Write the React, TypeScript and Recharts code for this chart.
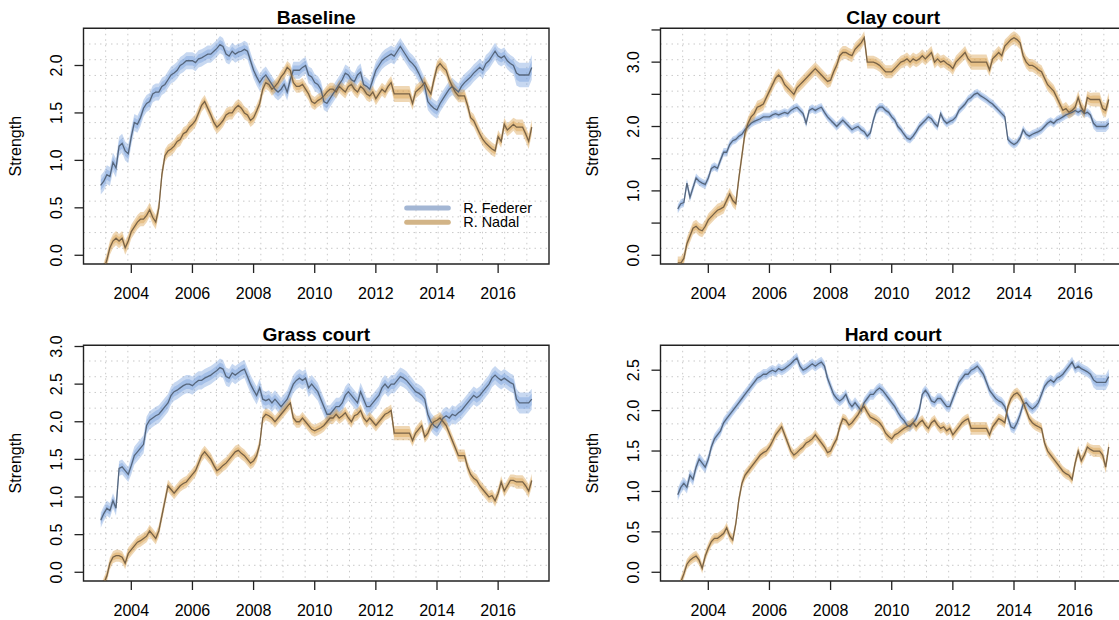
import React from "react";
import {
  ComposedChart,
  Area,
  Line,
  XAxis,
  YAxis,
  CartesianGrid,
  ReferenceArea,
} from "recharts";

// Rating dates (decimal years, sampled every tenth of a year)
const YEARS = [
  2003.0, 2003.1, 2003.2, 2003.3, 2003.4, 2003.5, 2003.6, 2003.7, 2003.8, 2003.9,
  2004.0, 2004.1, 2004.2, 2004.3, 2004.4, 2004.5, 2004.6, 2004.7, 2004.8, 2004.9,
  2005.0, 2005.1, 2005.2, 2005.3, 2005.4, 2005.5, 2005.6, 2005.7, 2005.8, 2005.9,
  2006.0, 2006.1, 2006.2, 2006.3, 2006.4, 2006.5, 2006.6, 2006.7, 2006.8, 2006.9,
  2007.0, 2007.1, 2007.2, 2007.3, 2007.4, 2007.5, 2007.6, 2007.7, 2007.8, 2007.9,
  2008.0, 2008.1, 2008.2, 2008.3, 2008.4, 2008.5, 2008.6, 2008.7, 2008.8, 2008.9,
  2009.0, 2009.1, 2009.2, 2009.3, 2009.4, 2009.5, 2009.6, 2009.7, 2009.8, 2009.9,
  2010.0, 2010.1, 2010.2, 2010.3, 2010.4, 2010.5, 2010.6, 2010.7, 2010.8, 2010.9,
  2011.0, 2011.1, 2011.2, 2011.3, 2011.4, 2011.5, 2011.6, 2011.7, 2011.8, 2011.9,
  2012.0, 2012.1, 2012.2, 2012.3, 2012.4, 2012.5, 2012.6, 2012.7, 2012.8, 2012.9,
  2013.0, 2013.1, 2013.2, 2013.3, 2013.4, 2013.5, 2013.6, 2013.7, 2013.8, 2013.9,
  2014.0, 2014.1, 2014.2, 2014.3, 2014.4, 2014.5, 2014.6, 2014.7, 2014.8, 2014.9,
  2015.0, 2015.1, 2015.2, 2015.3, 2015.4, 2015.5, 2015.6, 2015.7, 2015.8, 2015.9,
  2016.0, 2016.1, 2016.2, 2016.3, 2016.4, 2016.5, 2016.6, 2016.7, 2016.8, 2016.9,
  2017.0, 2017.1,
];

// ---- Baseline strength ----
const FED_BASELINE = [
  0.74, 0.78, 0.85, 0.83, 0.98, 0.92, 1.15, 1.18, 1.1, 1.07,
  1.25, 1.4, 1.38, 1.45, 1.55, 1.6, 1.62, 1.7, 1.72, 1.72,
  1.78, 1.8, 1.85, 1.9, 1.92, 1.95, 2.0, 2.02, 2.05, 2.05,
  2.05, 2.03, 2.07, 2.08, 2.1, 2.12, 2.12, 2.15, 2.18, 2.22,
  2.2, 2.12, 2.1, 2.15, 2.12, 2.14, 2.15, 2.17, 2.15, 2.05,
  1.95, 1.88, 1.82, 1.87, 1.9, 1.85, 1.8, 1.75, 1.72, 1.75,
  1.8, 1.72, 1.85, 1.95, 1.95, 1.95, 1.98, 2.0, 1.9, 1.88,
  1.82, 1.8, 1.75, 1.62, 1.6, 1.65, 1.7, 1.75, 1.8, 1.85,
  1.92, 1.9, 1.85, 1.83, 1.9, 1.93, 1.8, 1.78, 1.75, 1.85,
  1.95, 2.0, 2.05, 2.08, 2.1, 2.12, 2.1, 2.15, 2.2, 2.15,
  2.1, 2.05, 2.02, 1.98, 1.92, 1.85, 1.78, 1.62, 1.58, 1.55,
  1.53, 1.6, 1.65, 1.7, 1.75, 1.78, 1.75, 1.72, 1.78, 1.82,
  1.85, 1.88, 1.92, 1.95, 1.98, 1.95, 2.02, 2.05, 2.1, 2.15,
  2.1, 2.08, 2.1, 2.05, 2.02, 2.0, 1.92, 1.9, 1.9, 1.9,
  1.9, 1.98,
];
const NAD_BASELINE = [
  -0.25, -0.15, -0.05, 0.08, 0.15, 0.18, 0.15, 0.18, 0.08, 0.15,
  0.25, 0.3, 0.35, 0.38, 0.38, 0.42, 0.48, 0.4, 0.35, 0.5,
  0.85, 1.05, 1.1, 1.12, 1.15, 1.2, 1.22, 1.28, 1.3, 1.35,
  1.38, 1.42, 1.5, 1.58, 1.62, 1.55, 1.48, 1.4, 1.35, 1.38,
  1.42, 1.48, 1.5, 1.5, 1.55, 1.58, 1.55, 1.5, 1.48, 1.42,
  1.45, 1.52, 1.6, 1.75, 1.82, 1.8, 1.75, 1.78, 1.82, 1.88,
  1.92, 1.98, 1.95, 1.82, 1.78, 1.78, 1.8, 1.75, 1.7, 1.62,
  1.6, 1.63, 1.65, 1.68, 1.72, 1.75, 1.75, 1.72, 1.78, 1.75,
  1.72, 1.78, 1.8, 1.75, 1.72, 1.78, 1.75, 1.7, 1.68, 1.72,
  1.65, 1.7, 1.75, 1.72, 1.78, 1.82, 1.7, 1.7, 1.7, 1.7,
  1.7, 1.7, 1.6, 1.72, 1.75, 1.78, 1.82, 1.75, 1.7, 1.85,
  1.98, 2.02, 1.98, 1.95, 1.85, 1.78, 1.72, 1.68, 1.68, 1.68,
  1.58, 1.45, 1.42, 1.35, 1.28, 1.22, 1.18, 1.15, 1.12, 1.1,
  1.25, 1.2, 1.38, 1.32, 1.35, 1.38, 1.35, 1.35, 1.35, 1.28,
  1.2, 1.35,
];

// ---- Clay court strength ----
const FED_CLAY = [
  0.72, 0.8, 0.82, 1.12, 0.9, 1.05, 1.2, 1.15, 1.12, 1.1,
  1.2, 1.35, 1.38, 1.35, 1.48, 1.6, 1.6, 1.72, 1.78, 1.8,
  1.85, 1.88, 1.95, 2.0, 2.05, 2.08, 2.1, 2.12, 2.15, 2.15,
  2.15, 2.18, 2.2, 2.18, 2.2, 2.22, 2.2, 2.25, 2.28, 2.3,
  2.25, 2.2, 2.05, 2.25, 2.28, 2.25, 2.28, 2.3, 2.22, 2.15,
  2.1, 2.05, 2.0, 2.05, 2.1, 2.05, 2.0, 1.95, 1.98, 2.0,
  1.95, 1.92, 1.85, 1.9, 2.1, 2.25, 2.3, 2.3, 2.25, 2.22,
  2.15, 2.1, 2.0, 1.95, 1.88, 1.82, 1.8, 1.85, 1.92, 2.0,
  2.05, 2.1, 2.15, 2.12, 2.05, 2.0, 2.2, 2.1, 2.05, 2.08,
  2.1, 2.15, 2.25, 2.3, 2.35, 2.42, 2.45, 2.5, 2.52, 2.48,
  2.45, 2.42, 2.38, 2.35, 2.3, 2.25, 2.2, 2.15, 1.8, 1.75,
  1.72, 1.75, 1.82, 1.95, 1.88, 1.85, 1.88, 1.9, 1.92, 1.95,
  2.0, 2.05, 2.08, 2.05, 2.1, 2.12, 2.15, 2.18, 2.2, 2.22,
  2.25, 2.22, 2.25, 2.2, 2.22, 2.18, 2.05, 2.0, 2.0, 2.0,
  2.0, 2.05,
];
const NAD_CLAY = [
  -0.12, -0.12, -0.05, 0.18, 0.3, 0.42, 0.45, 0.4, 0.38, 0.45,
  0.55, 0.6, 0.65, 0.7, 0.72, 0.75, 0.85, 0.95, 0.85, 0.8,
  1.2, 1.55, 1.9, 2.05, 2.15, 2.2, 2.3, 2.32, 2.35, 2.45,
  2.55, 2.65, 2.75, 2.8, 2.75, 2.65, 2.6, 2.55, 2.5, 2.6,
  2.65, 2.7, 2.75, 2.8, 2.85, 2.9, 2.85, 2.8, 2.75, 2.7,
  2.72, 2.85, 2.95, 3.1, 3.15, 3.15, 3.12, 3.1, 3.2, 3.25,
  3.3, 3.38, 3.0, 3.0, 3.0, 2.98, 2.95, 2.9, 2.85, 2.85,
  2.85, 2.9, 2.95, 3.0, 3.02, 3.05, 3.0, 3.05, 3.02, 3.05,
  3.1, 3.05, 3.1, 3.15, 3.0, 3.05, 3.0, 3.02, 2.98, 2.95,
  2.9, 3.0, 3.05, 3.1, 3.15, 3.05, 3.0, 3.0, 3.0, 3.0,
  3.0, 3.0, 2.88, 3.05, 3.1, 3.15, 3.1, 3.25, 3.3, 3.35,
  3.38, 3.35, 3.3, 3.1, 3.0, 2.95, 2.95, 2.92, 2.88, 2.85,
  2.75, 2.65, 2.6, 2.55, 2.45, 2.35, 2.25, 2.28, 2.22, 2.25,
  2.3, 2.45, 2.3, 2.22, 2.45, 2.42, 2.42, 2.42, 2.42, 2.28,
  2.25, 2.42,
];

// ---- Grass court strength ----
const FED_GRASS = [
  0.69, 0.78, 0.85, 0.82, 0.95, 0.85, 1.38, 1.4, 1.35, 1.3,
  1.42, 1.55, 1.6, 1.65, 1.7, 1.95, 2.02, 2.05, 2.08, 2.1,
  2.15, 2.2, 2.25, 2.35, 2.4, 2.42, 2.45, 2.48, 2.5, 2.5,
  2.48, 2.52, 2.55, 2.55, 2.58, 2.6, 2.62, 2.65, 2.68, 2.72,
  2.7, 2.6, 2.58, 2.65, 2.62, 2.65, 2.68, 2.7, 2.6, 2.5,
  2.42, 2.35, 2.45, 2.3, 2.28, 2.3, 2.25, 2.3, 2.25, 2.2,
  2.25, 2.3, 2.4, 2.5, 2.55, 2.58, 2.55, 2.58, 2.45, 2.5,
  2.45, 2.4, 2.3, 2.2, 2.1, 2.1, 2.15, 2.2, 2.2, 2.25,
  2.35, 2.4, 2.35, 2.3, 2.25, 2.4, 2.3, 2.2, 2.2, 2.25,
  2.3, 2.35, 2.45, 2.5, 2.45, 2.5, 2.5, 2.55, 2.6, 2.58,
  2.55, 2.5, 2.45, 2.4, 2.38, 2.35, 2.3, 2.1, 2.0, 1.95,
  1.92, 1.98, 2.05, 2.08, 2.05, 2.1, 2.08, 2.12, 2.15, 2.2,
  2.25, 2.3, 2.35, 2.32, 2.35, 2.4, 2.45, 2.5, 2.58, 2.62,
  2.58, 2.55, 2.58, 2.55, 2.52, 2.5, 2.3, 2.25, 2.25, 2.25,
  2.25, 2.3,
];
const NAD_GRASS = [
  -0.25, -0.15, -0.05, 0.12, 0.2, 0.22, 0.22, 0.2, 0.12, 0.25,
  0.3, 0.35, 0.4, 0.42, 0.45, 0.48, 0.55, 0.5, 0.45, 0.55,
  0.75, 0.95, 1.15, 1.1, 1.05, 1.1, 1.15, 1.18, 1.2, 1.25,
  1.3, 1.35, 1.45, 1.55, 1.6, 1.55, 1.5, 1.42, 1.35, 1.38,
  1.42, 1.45, 1.5, 1.55, 1.6, 1.62, 1.58, 1.55, 1.5, 1.45,
  1.48, 1.55, 1.7, 2.05, 2.1, 2.08, 2.05, 2.0, 2.05, 2.1,
  2.15, 2.2, 2.25, 2.05, 2.0, 2.0, 2.05, 2.0, 1.95, 1.9,
  1.88, 1.9, 1.92, 1.95, 2.0, 2.05, 2.05, 2.1, 2.05, 2.08,
  2.12, 2.05, 2.0, 2.08, 2.1, 2.15, 2.05, 2.0, 2.05, 2.0,
  1.95, 2.0, 2.05, 2.1, 2.12, 2.15, 1.85, 1.85, 1.85, 1.85,
  1.85, 1.85, 1.75, 1.85, 1.9, 1.95, 1.8, 1.85, 1.95, 2.0,
  2.02, 2.05, 2.0, 1.95, 1.85, 1.75, 1.65, 1.55, 1.55, 1.55,
  1.4, 1.3, 1.25, 1.22, 1.15, 1.1, 1.05, 1.0, 1.02, 0.95,
  1.05, 1.2, 1.08, 1.15, 1.22, 1.22, 1.2, 1.2, 1.2, 1.15,
  1.08, 1.22,
];

// ---- Hard court strength ----
const FED_HARD = [
  0.96, 1.05, 1.1, 1.05, 1.2, 1.15, 1.3, 1.4, 1.35, 1.3,
  1.4, 1.55, 1.65, 1.7, 1.75, 1.85, 1.9, 1.95, 2.0, 2.05,
  2.1, 2.15, 2.2, 2.25, 2.3, 2.35, 2.4, 2.42, 2.45, 2.45,
  2.48, 2.5, 2.48, 2.52, 2.5, 2.52, 2.55, 2.58, 2.62, 2.65,
  2.55, 2.5, 2.52, 2.55, 2.58, 2.55, 2.58, 2.6, 2.55, 2.4,
  2.3, 2.2, 2.15, 2.12, 2.15, 2.2, 2.1, 2.05, 2.1, 2.05,
  2.0, 2.1, 2.15, 2.2, 2.2, 2.25, 2.28, 2.25, 2.2, 2.15,
  2.1, 2.05, 1.98, 1.92, 1.88, 1.82, 1.8, 1.85, 1.9, 2.0,
  2.2, 2.25, 2.2, 2.12, 2.1, 2.15, 2.15, 2.1, 2.05, 2.05,
  2.15, 2.25, 2.35, 2.4, 2.45, 2.45, 2.5, 2.52, 2.55, 2.5,
  2.45, 2.35, 2.25, 2.2, 2.15, 2.12, 2.1, 2.05, 1.92, 1.8,
  1.78, 1.85, 1.95, 2.08, 2.1, 2.05, 2.02, 2.05, 2.1, 2.2,
  2.3, 2.35, 2.38, 2.35, 2.4, 2.42, 2.45, 2.5, 2.55, 2.6,
  2.52, 2.55, 2.52, 2.5, 2.48, 2.45, 2.38, 2.35, 2.35, 2.35,
  2.35, 2.42,
];
const NAD_HARD = [
  -0.25, -0.12, -0.02, 0.1, 0.15, 0.18, 0.2, 0.15, 0.05, 0.2,
  0.3, 0.38, 0.42, 0.42, 0.45, 0.48, 0.55, 0.45, 0.4, 0.6,
  0.9, 1.1, 1.2, 1.25, 1.3, 1.35, 1.4, 1.45, 1.48, 1.5,
  1.55, 1.62, 1.7, 1.75, 1.8, 1.7, 1.6, 1.5, 1.45, 1.48,
  1.52, 1.55, 1.6, 1.62, 1.65, 1.7, 1.65, 1.6, 1.55, 1.48,
  1.5, 1.58, 1.65, 1.8, 1.9, 1.88, 1.82, 1.85, 1.9, 1.95,
  2.02, 2.05, 1.98, 1.92, 1.9, 1.88, 1.85, 1.8, 1.72, 1.68,
  1.65, 1.7, 1.72, 1.75, 1.78, 1.8, 1.82, 1.85, 1.8, 1.85,
  1.88, 1.82, 1.78, 1.85, 1.88, 1.82, 1.78, 1.8, 1.75, 1.78,
  1.7, 1.75, 1.8, 1.85, 1.88, 1.9, 1.78, 1.78, 1.78, 1.78,
  1.78, 1.78, 1.7, 1.8, 1.85, 1.9, 1.88, 1.85, 2.05, 2.15,
  2.2, 2.22, 2.18, 2.1, 2.0, 1.9, 1.85, 1.82, 1.8, 1.78,
  1.6, 1.5, 1.45, 1.4, 1.35, 1.3, 1.25, 1.22, 1.2, 1.15,
  1.35, 1.5, 1.38, 1.45, 1.55, 1.52, 1.5, 1.5, 1.5, 1.45,
  1.3, 1.55,
];

// Credible-band half widths: [from year, to year, half width]
const FED_BASELINE_BAND = [[2003.0, 2003.9, 0.1], [2004.0, 2016.5, 0.09], [2016.6, 2017.1, 0.13]];
const NAD_BASELINE_BAND = [[2003.0, 2004.9, 0.075], [2005.0, 2012.5, 0.068], [2012.6, 2013.1, 0.085], [2013.2, 2016.5, 0.068], [2016.6, 2017.1, 0.08]];
const FED_CLAY_BAND = [[2003.0, 2003.9, 0.07], [2004.0, 2016.5, 0.065], [2016.6, 2017.1, 0.085]];
const NAD_CLAY_BAND = [[2003.0, 2012.5, 0.1], [2012.6, 2013.1, 0.12], [2013.2, 2016.5, 0.1], [2016.6, 2017.1, 0.11]];
const FED_GRASS_BAND = [[2003.0, 2003.9, 0.1], [2004.0, 2016.5, 0.12], [2016.6, 2017.1, 0.14]];
const NAD_GRASS_BAND = [[2003.0, 2012.5, 0.08], [2012.6, 2013.1, 0.095], [2013.2, 2016.5, 0.08], [2016.6, 2017.1, 0.09]];
const FED_HARD_BAND = [[2003.0, 2003.9, 0.075], [2004.0, 2016.5, 0.065], [2016.6, 2017.1, 0.095]];
const NAD_HARD_BAND = [[2003.0, 2012.5, 0.065], [2012.6, 2013.1, 0.08], [2013.2, 2016.5, 0.065], [2016.6, 2017.1, 0.075]];

const X_TICKS = [2004, 2006, 2008, 2010, 2012, 2014, 2016];
const BASELINE_Y_TICKS = [0, 0.5, 1, 1.5, 2];
const CLAY_Y_TICKS = [0, 0.5, 1, 1.5, 2, 2.5, 3, 3.5];
const CLAY_Y_LABELS = [0, 1, 2, 3];
const GRASS_Y_TICKS = [0, 0.5, 1, 1.5, 2, 2.5, 3];
const HARD_Y_TICKS = [0, 0.5, 1, 1.5, 2, 2.5];

const BASELINE_YLIM = [0, 2.3];
const CLAY_YLIM = [0, 3.39];
const GRASS_YLIM = [0, 2.9];
const HARD_YLIM = [0, 2.7];

const PLAYERS = ["R. Federer", "R. Nadal"];
const Y_TITLE = "Strength";

// ---- styling ----
const FONT = "'Liberation Sans', Arial, Helvetica, sans-serif";
const FED_FILL = "#749ddc";
const FED_LINE = "#56667c";
const NAD_FILL = "#d99f4c";
const NAD_LINE = "#786246";
const FED_KEY = "#a3b6d4";
const NAD_KEY = "#d2b487";
const FRAME = "#222";
const INNER_RATIO = 0.55;

const CHART_W = 577;
const CHART_H = 316;
const Y_AXIS_W = 60;
const X_AXIS_H = 40;
const MARGIN = { top: 28.3, right: 28, bottom: 12, left: 23.5 };
const PLOT_W = CHART_W - MARGIN.left - Y_AXIS_W - MARGIN.right;
const PLOT_H = CHART_H - MARGIN.top - MARGIN.bottom - X_AXIS_H;
const PLOT_X = MARGIN.left + Y_AXIS_W;
const GRID_NX = 21;
const GRID_NY = 15;

// R-style 4% axis extension
const extend = (lo: number, hi: number): [number, number] => {
  const pad = (hi - lo) * 0.04;
  return [lo - pad, hi + pad];
};
const X_DOMAIN = extend(YEARS[0], YEARS[YEARS.length - 1]);

const bandAt = (segments: number[][], t: number) => {
  const seg = segments.find((s) => t >= s[0] - 1e-6 && t <= s[1] + 1e-6);
  return seg ? seg[2] : 0;
};

const buildRows = (fed: number[], nad: number[], fedBand: number[][], nadBand: number[][]) =>
  YEARS.map((t, i) => {
    const fw = bandAt(fedBand, t);
    const nw = bandAt(nadBand, t);
    return {
      t,
      fedOuter: [fed[i] - fw, fed[i] + fw],
      fedInner: [fed[i] - fw * INNER_RATIO, fed[i] + fw * INNER_RATIO],
      fedMid: fed[i],
      nadOuter: [nad[i] - nw, nad[i] + nw],
      nadInner: [nad[i] - nw * INNER_RATIO, nad[i] + nw * INNER_RATIO],
      nadMid: nad[i],
    };
  });

type PanelProps = {
  title: string;
  rows: ReturnType<typeof buildRows>;
  ylim: number[];
  yTicks: number[];
  yLabels?: number[];
  left: number;
  top: number;
  legend?: boolean;
};

function Panel({ title, rows, ylim, yTicks, yLabels, left, top, legend }: PanelProps) {
  const yDomain = extend(ylim[0], ylim[1]);
  const labelled = (v: number) => !yLabels || yLabels.some((l) => Math.abs(l - v) < 1e-9);

  const renderYTick = (props: any) => {
    const { x, y, payload } = props;
    if (!labelled(payload.value)) return <g />;
    return (
      <text
        x={x}
        y={y}
        transform={`rotate(-90, ${x}, ${y})`}
        textAnchor="middle"
        fontSize={16}
        fontFamily={FONT}
        fill="#000"
      >
        {Number(payload.value).toFixed(1)}
      </text>
    );
  };

  const midY = MARGIN.top + PLOT_H / 2;

  return (
    <div style={{ position: "absolute", left, top, width: CHART_W, height: CHART_H }}>
      <ComposedChart width={CHART_W} height={CHART_H} data={rows} margin={MARGIN}>
        <CartesianGrid
          stroke="#c9c9c9"
          strokeDasharray="1.5 4"
          verticalCoordinatesGenerator={({ offset }: any) =>
            Array.from({ length: GRID_NX - 1 }, (_, k) => offset.left + ((k + 1) * offset.width) / GRID_NX)
          }
          horizontalCoordinatesGenerator={({ offset }: any) =>
            Array.from({ length: GRID_NY - 1 }, (_, k) => offset.top + ((k + 1) * offset.height) / GRID_NY)
          }
        />
        <XAxis
          type="number"
          dataKey="t"
          domain={X_DOMAIN}
          allowDataOverflow
          ticks={X_TICKS}
          interval={0}
          height={X_AXIS_H}
          axisLine={false}
          tickSize={9}
          tickMargin={14.5}
          tickLine={{ stroke: FRAME, strokeWidth: 1.3 }}
          tick={{ fontSize: 16, fill: "#000", fontFamily: FONT }}
        />
        <YAxis
          type="number"
          domain={yDomain}
          allowDataOverflow
          ticks={yTicks}
          interval={0}
          width={Y_AXIS_W}
          axisLine={false}
          tickSize={9}
          tickMargin={12}
          tickLine={{ stroke: FRAME, strokeWidth: 1.3 }}
          tick={renderYTick}
        />
        <Area dataKey="fedOuter" type="linear" stroke="none" fill={FED_FILL} fillOpacity={0.4} isAnimationActive={false} />
        <Area dataKey="fedInner" type="linear" stroke="none" fill={FED_FILL} fillOpacity={0.4} isAnimationActive={false} />
        <Area dataKey="nadOuter" type="linear" stroke="none" fill={NAD_FILL} fillOpacity={0.42} isAnimationActive={false} />
        <Area dataKey="nadInner" type="linear" stroke="none" fill={NAD_FILL} fillOpacity={0.42} isAnimationActive={false} />
        <Line dataKey="fedMid" type="linear" stroke={FED_LINE} strokeWidth={1.3} dot={false} isAnimationActive={false} />
        <Line dataKey="nadMid" type="linear" stroke={NAD_LINE} strokeWidth={1.3} dot={false} isAnimationActive={false} />
        <ReferenceArea
          x1={X_DOMAIN[0]}
          x2={X_DOMAIN[1]}
          y1={yDomain[0]}
          y2={yDomain[1]}
          ifOverflow="visible"
          fill="none"
          stroke={FRAME}
          strokeWidth={1.4}
        />
      </ComposedChart>
      <svg
        width={CHART_W}
        height={CHART_H}
        style={{ position: "absolute", left: 0, top: 0, pointerEvents: "none", overflow: "visible" }}
      >
        <text
          x={PLOT_X + PLOT_W / 2}
          y={24}
          textAnchor="middle"
          fontSize={19.2}
          fontWeight="bold"
          fontFamily={FONT}
          fill="#000"
        >
          {title}
        </text>
        <text
          x={21.5}
          y={midY}
          transform={`rotate(-90, 21.5, ${midY})`}
          textAnchor="middle"
          fontSize={16}
          fontFamily={FONT}
          fill="#000"
        >
          {Y_TITLE}
        </text>
        {legend && (
          <g fontFamily={FONT} fontSize={14.4} fill="#000">
            <line x1={406.7} x2={448.3} y1={208} y2={208} stroke={FED_KEY} strokeWidth={5} strokeLinecap="round" />
            <line x1={406.7} x2={448.3} y1={222.3} y2={222.3} stroke={NAD_KEY} strokeWidth={5} strokeLinecap="round" />
            <text x={463.3} y={213}>{PLAYERS[0]}</text>
            <text x={463.3} y={227.3}>{PLAYERS[1]}</text>
          </g>
        )}
      </svg>
    </div>
  );
}

const RIGHT_COL = 576.8;
const BOTTOM_ROW = 316.5;

export default function App() {
  return (
    <div
      style={{
        position: "absolute",
        left: 0,
        top: 0,
        width: 1119,
        height: 620,
        overflow: "hidden",
        background: "#fff",
      }}
    >
      <Panel
        title="Baseline"
        rows={buildRows(FED_BASELINE, NAD_BASELINE, FED_BASELINE_BAND, NAD_BASELINE_BAND)}
        ylim={BASELINE_YLIM}
        yTicks={BASELINE_Y_TICKS}
        left={0}
        top={0}
        legend
      />
      <Panel
        title="Clay court"
        rows={buildRows(FED_CLAY, NAD_CLAY, FED_CLAY_BAND, NAD_CLAY_BAND)}
        ylim={CLAY_YLIM}
        yTicks={CLAY_Y_TICKS}
        yLabels={CLAY_Y_LABELS}
        left={RIGHT_COL}
        top={0}
      />
      <Panel
        title="Grass court"
        rows={buildRows(FED_GRASS, NAD_GRASS, FED_GRASS_BAND, NAD_GRASS_BAND)}
        ylim={GRASS_YLIM}
        yTicks={GRASS_Y_TICKS}
        left={0}
        top={BOTTOM_ROW}
      />
      <Panel
        title="Hard court"
        rows={buildRows(FED_HARD, NAD_HARD, FED_HARD_BAND, NAD_HARD_BAND)}
        ylim={HARD_YLIM}
        yTicks={HARD_Y_TICKS}
        left={RIGHT_COL}
        top={BOTTOM_ROW}
      />
    </div>
  );
}
